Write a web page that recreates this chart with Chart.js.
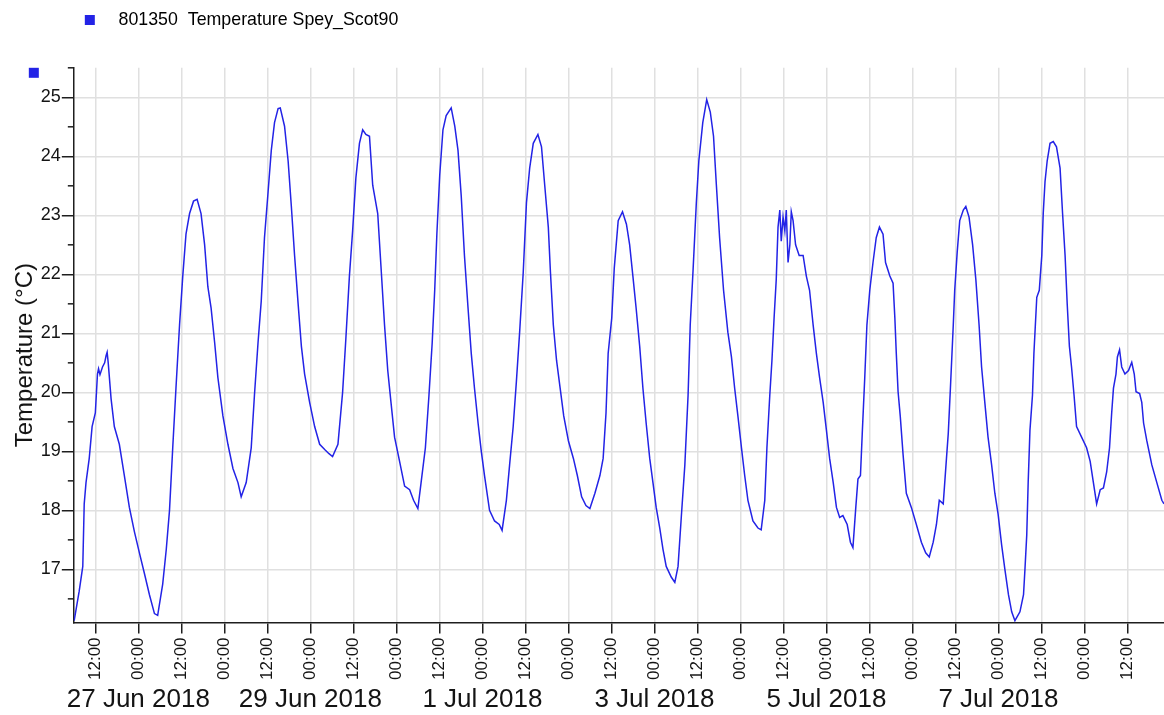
<!DOCTYPE html>
<html>
<head>
<meta charset="utf-8">
<script src="https://cdn.jsdelivr.net/npm/chart.js@4/dist/chart.umd.min.js"></script>
<style>
  html, body { margin: 0; padding: 0; background: #ffffff; }
  #wrap { width: 1164px; height: 715px; }
</style>
</head>
<body>
<div id="wrap"><canvas id="c" width="1164" height="715"></canvas></div>
<script>
// Hours since 26 Jun 2018 00:00
const hours = [
  6.1, 7.5, 8.5, 8.9, 9.4, 10.3, 11.1, 12.0, 12.6, 12.9, 13.3, 14.0, 14.6, 15.0, 15.3, 15.6,
  16.4, 17.3, 18.7, 20.1, 21.5, 22.9, 24.3, 25.7, 27.1, 28.5, 29.4, 30.8, 31.8, 32.7, 33.6, 34.5,
  35.5, 36.4, 37.3, 38.3, 39.4, 40.4, 41.5, 42.5, 43.4, 44.3, 45.3, 46.2, 47.6, 49.0, 50.4, 51.8,
  52.7, 54.1, 55.5, 56.4, 57.4, 58.3, 59.2, 60.2, 61.1, 62.0, 63.0, 63.6, 64.8, 65.8, 66.7, 67.6,
  68.6, 69.5, 70.4, 71.8, 73.2, 74.6, 76.0, 77.2, 78.2, 79.7, 81.0, 81.9, 82.9, 83.8, 84.7, 85.7,
  86.6, 87.5, 88.5, 89.4, 90.8, 91.7, 92.7, 93.6, 94.5, 95.5, 96.9, 98.3, 99.7, 100.8, 102.0, 102.9,
  104.1, 105.1, 106.0, 106.7, 107.3, 108.1, 109.0, 109.9, 111.3, 112.3, 113.2, 114.1, 115.0, 116.0, 116.9, 117.8,
  118.8, 119.7, 120.6, 122.0, 123.4, 124.7, 125.5, 126.7, 127.6, 128.6, 129.5, 130.4, 131.4, 132.3, 133.2, 134.2,
  135.5, 136.5, 137.4, 138.4, 139.0, 139.8, 140.7, 141.7, 142.7, 144.0, 145.4, 146.5, 147.7, 148.9, 150.0, 151.4,
  152.8, 153.7, 154.5, 155.1, 156.1, 156.8, 157.9, 159.1, 160.2, 161.1, 162.0, 162.9, 163.9, 164.8, 165.7, 166.7,
  167.6, 168.5, 169.5, 170.4, 171.3, 172.7, 173.7, 174.6, 175.5, 176.5, 177.4, 178.0, 178.8, 179.7, 180.4, 181.5,
  182.6, 183.6, 184.5, 185.3, 186.2, 187.3, 188.5, 189.5, 190.4, 191.3, 192.3, 193.2, 194.1, 195.5, 196.9, 197.8,
  198.8, 199.4, 200.2, 200.8, 201.4, 202.0, 202.5, 203.0, 203.4, 203.9, 204.4, 204.8, 205.3, 205.8, 206.2, 206.7,
  207.4, 208.4, 209.5, 210.4, 211.3, 212.3, 213.2, 214.1, 215.1, 216.0, 216.9, 217.9, 218.8, 219.7, 220.6, 221.8,
  222.7, 223.4, 224.2, 224.8, 225.5, 226.0, 226.7, 227.3, 228.1, 229.0, 229.9, 230.8, 231.8, 232.5, 233.7, 234.6,
  235.1, 235.5, 236.0, 236.6, 237.4, 238.3, 239.7, 241.1, 242.5, 243.7, 244.7, 245.8, 246.7, 247.5, 248.6, 249.5,
  250.0, 250.6, 251.4, 251.8, 252.5, 253.2, 254.2, 254.9, 255.8, 256.8, 257.7, 258.6, 259.3, 260.2, 261.1, 262.1,
  263.0, 263.9, 264.9, 265.8, 266.8, 267.7, 268.6, 270.0, 271.0, 271.4, 271.9, 272.3, 272.8, 273.5, 273.9, 274.7,
  275.4, 276.1, 276.5, 277.0, 277.6, 278.4, 279.3, 280.2, 281.2, 281.9, 282.6, 283.2, 283.8, 284.4, 285.1, 285.8,
  287.2, 288.6, 289.6, 290.5, 291.4, 292.4, 293.3, 294.2, 295.0, 295.6, 296.1, 296.8, 297.2, 297.8, 298.4, 299.3,
  300.3, 301.2, 301.9, 302.4, 303.4, 304.0, 304.5, 305.4, 306.8, 308.2, 309.6, 310.2
];
const temperature = [
  16.13, 16.63, 17.05, 18.11, 18.47, 18.88, 19.42, 19.65, 20.31, 20.40, 20.30, 20.43, 20.50, 20.62, 20.68, 20.50,
  19.89, 19.42, 19.12, 18.59, 18.05, 17.64, 17.28, 16.93, 16.57, 16.25, 16.22, 16.75, 17.34, 18.00, 19.06, 20.07,
  21.14, 21.97, 22.68, 23.03, 23.24, 23.27, 23.03, 22.50, 21.79, 21.43, 20.84, 20.25, 19.60, 19.12, 18.71, 18.47,
  18.23, 18.47, 19.06, 19.95, 20.84, 21.55, 22.62, 23.39, 24.10, 24.57, 24.81, 24.82, 24.51, 23.92, 23.15, 22.32,
  21.49, 20.78, 20.31, 19.83, 19.42, 19.12, 19.03, 18.96, 18.91, 19.12, 20.00, 20.90, 21.97, 22.74, 23.63, 24.22,
  24.45, 24.37, 24.34, 23.51, 23.03, 22.14, 21.14, 20.37, 19.83, 19.24, 18.83, 18.41, 18.35, 18.17, 18.03, 18.47,
  19.06, 19.95, 20.84, 21.73, 22.68, 23.68, 24.45, 24.69, 24.82, 24.51, 24.10, 23.33, 22.32, 21.43, 20.66, 20.07,
  19.48, 19.00, 18.59, 18.00, 17.82, 17.76, 17.66, 18.17, 18.77, 19.42, 20.19, 21.02, 22.03, 23.21, 23.80, 24.22,
  24.37, 24.16, 23.51, 22.80, 22.03, 21.14, 20.54, 20.07, 19.60, 19.18, 18.88, 18.59, 18.23, 18.08, 18.03, 18.29,
  18.59, 18.88, 19.65, 20.66, 21.26, 22.10, 22.91, 23.06, 22.85, 22.50, 21.97, 21.43, 20.78, 20.07, 19.48, 18.88,
  18.47, 18.05, 17.70, 17.34, 17.05, 16.87, 16.78, 17.05, 17.88, 18.77, 19.95, 21.14, 22.08, 23.21, 23.92, 24.57,
  24.96, 24.75, 24.34, 23.51, 22.62, 21.73, 21.02, 20.60, 20.07, 19.60, 19.06, 18.59, 18.17, 17.82, 17.70, 17.67,
  18.17, 19.06, 19.95, 20.54, 21.26, 21.91, 22.80, 23.09, 22.56, 22.97, 22.74, 23.09, 22.20, 22.50, 23.06, 22.91,
  22.50, 22.32, 22.32, 21.97, 21.73, 21.14, 20.66, 20.25, 19.83, 19.36, 18.88, 18.47, 18.05, 17.88, 17.91, 17.76,
  17.46, 17.37, 18.05, 18.53, 18.59, 19.30, 20.25, 21.14, 21.73, 22.20, 22.62, 22.80, 22.68, 22.20, 21.97, 21.85,
  21.26, 20.66, 20.01, 19.60, 18.94, 18.29, 18.05, 17.76, 17.46, 17.28, 17.21, 17.46, 17.76, 18.17, 18.11, 18.88,
  19.30, 20.07, 21.14, 21.73, 22.38, 22.91, 23.09, 23.15, 22.97, 22.50, 21.91, 21.14, 20.43, 19.83, 19.24, 18.77,
  18.29, 17.94, 17.41, 17.00, 16.57, 16.28, 16.13, 16.28, 16.57, 17.00, 17.58, 18.47, 19.36, 19.95, 20.66, 21.61,
  21.73, 22.32, 23.03, 23.57, 23.92, 24.22, 24.25, 24.16, 23.80, 23.03, 22.32, 21.49, 20.78, 20.43, 19.95, 19.42,
  19.24, 19.06, 18.83, 18.47, 18.11, 18.35, 18.38, 18.65, 19.06, 19.65, 20.07, 20.31, 20.60, 20.72, 20.43, 20.31,
  20.37, 20.51, 20.31, 20.01, 19.98, 19.83, 19.48, 19.18, 18.77, 18.47, 18.17, 18.11
];

const seriesLabel = '801350  Temperature Spey_Scot90';
const yAxisTitle = 'Temperature (°C)';

const timeTickHours = [12, 24, 36, 48, 60, 72, 84, 96, 108, 120, 132, 144, 156, 168, 180, 192, 204, 216, 228, 240, 252, 264, 276, 288, 300];
const timeTickLabels = ['12:00', '00:00', '12:00', '00:00', '12:00', '00:00', '12:00', '00:00', '12:00', '00:00', '12:00', '00:00', '12:00',
                        '00:00', '12:00', '00:00', '12:00', '00:00', '12:00', '00:00', '12:00', '00:00', '12:00', '00:00', '12:00'];
const dateTickHours = [24, 72, 120, 168, 216, 264];
const dateTickLabels = ['27 Jun 2018', '29 Jun 2018', '1 Jul 2018', '3 Jul 2018', '5 Jul 2018', '7 Jul 2018'];
const yMajorTicks = [17, 18, 19, 20, 21, 22, 23, 24, 25];
const yMinorTicks = [16.5, 17.5, 18.5, 19.5, 20.5, 21.5, 22.5, 23.5, 24.5, 25.5];

const FONT = "'Liberation Sans', Arial, sans-serif";
const LINE_COLOR = '#2323e6';
const TEXT_COLOR = '#141414';
const AXIS_COLOR = '#1e1e1e';
const GRID_COLOR = '#e0e0e0';

const points = hours.map((h, i) => ({ x: h, y: temperature[i] }));

const extras = {
  id: 'extras',
  afterDraw(chart) {
    const { ctx, chartArea } = chart;
    const y = chart.scales.y;
    ctx.save();
    ctx.strokeStyle = AXIS_COLOR;
    ctx.lineWidth = 1.5;
    yMinorTicks.forEach(v => {
      const py = y.getPixelForValue(v);
      ctx.beginPath();
      ctx.moveTo(chartArea.left - 6, py);
      ctx.lineTo(chartArea.left, py);
      ctx.stroke();
    });
    ctx.fillStyle = LINE_COLOR;
    ctx.fillRect(chartArea.left - 45, chartArea.top, 10, 10);
    ctx.restore();
  }
};

new Chart(document.getElementById('c'), {
  type: 'line',
  data: {
    datasets: [{
      label: seriesLabel,
      data: points,
      borderColor: LINE_COLOR,
      backgroundColor: LINE_COLOR,
      borderWidth: 1.5,
      pointRadius: 0,
      tension: 0,
      fill: false
    }]
  },
  options: {
    responsive: false,
    devicePixelRatio: 1,
    animation: false,
    layout: { padding: { top: 0, right: 0, bottom: 0, left: 0 } },
    plugins: {
      tooltip: { enabled: false },
      title: {
        display: true,
        text: '',
        padding: 0,
        font: { family: FONT, size: 29, lineHeight: 1.0 }
      },
      legend: {
        position: 'top',
        align: 'start',
        fullSize: false,
        weight: 3000,
        labels: {
          boxWidth: 10,
          boxHeight: 10,
          padding: 11,
          color: TEXT_COLOR,
          font: { family: FONT, size: 17.8 },
          generateLabels: (chart) => chart.data.datasets.map((ds, i) => ({
            text: '   ' + ds.label,
            fillStyle: ds.borderColor,
            strokeStyle: ds.borderColor,
            lineWidth: 0,
            datasetIndex: i,
            hidden: false
          }))
        }
      }
    },
    scales: {
      x: {
        type: 'linear',
        position: 'bottom',
        weight: 0,
        min: 6,
        max: 310.2,
        afterBuildTicks: (axis) => { axis.ticks = timeTickHours.map(v => ({ value: v })); },
        ticks: {
          autoSkip: false,
          minRotation: 90,
          maxRotation: 90,
          padding: 4,
          color: TEXT_COLOR,
          font: { family: FONT, size: 17 },
          callback: (value) => timeTickLabels[timeTickHours.indexOf(value)]
        },
        grid: {
          color: GRID_COLOR,
          lineWidth: 1.5,
          tickColor: AXIS_COLOR,
          tickLength: 11,
          tickWidth: 1.5
        },
        border: { display: true, color: AXIS_COLOR, width: 1.5 }
      },
      dates: {
        type: 'linear',
        position: 'bottom',
        weight: 1,
        min: 6,
        max: 310.2,
        afterBuildTicks: (axis) => { axis.ticks = dateTickHours.map(v => ({ value: v })); },
        ticks: {
          autoSkip: false,
          maxRotation: 0,
          minRotation: 0,
          padding: 2.5,
          color: TEXT_COLOR,
          font: { family: FONT, size: 26, lineHeight: 1.0 },
          callback: (value) => dateTickLabels[dateTickHours.indexOf(value)]
        },
        grid: { display: false, drawTicks: false },
        border: { display: false }
      },
      y: {
        type: 'linear',
        position: 'left',
        min: 16.1,
        max: 25.5,
        afterBuildTicks: (axis) => { axis.ticks = yMajorTicks.map(v => ({ value: v })); },
        ticks: {
          padding: 1,
          color: TEXT_COLOR,
          font: { family: FONT, size: 18 },
          callback: (value) => String(value)
        },
        grid: {
          color: GRID_COLOR,
          lineWidth: 1.5,
          tickColor: AXIS_COLOR,
          tickLength: 12,
          tickWidth: 1.5
        },
        border: { display: true, color: AXIS_COLOR, width: 1.5 },
        title: {
          display: true,
          text: yAxisTitle + '   ',
          color: TEXT_COLOR,
          font: { family: FONT, size: 24 },
          padding: { top: 11, bottom: 0 }
        }
      }
    }
  },
  plugins: [extras]
});
</script>
</body>
</html>
